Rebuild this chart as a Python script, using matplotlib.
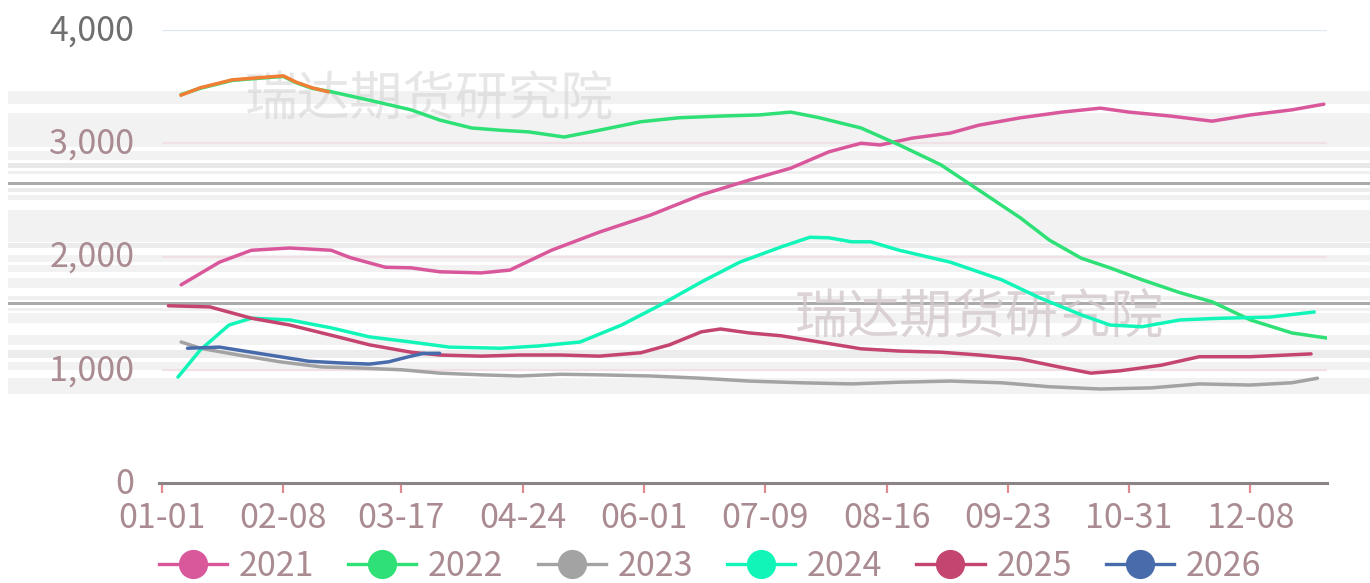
import matplotlib
matplotlib.use("Agg")
import matplotlib.pyplot as plt
import matplotlib.transforms as mtransforms
from matplotlib.patches import Rectangle
from matplotlib.lines import Line2D

plt.rcParams['font.family'] = ['Noto Sans CJK SC', 'DejaVu Sans']

# ---------------- data (day of year offset from 01-01, value) ----------------
tick_days = [0, 38, 75, 113, 151, 189, 227, 265, 303, 341]
tick_labels = ["01-01", "02-08", "03-17", "04-24", "06-01", "07-09", "08-16", "09-23", "10-31", "12-08"]
y_ticks = [0, 1000, 2000, 3000, 4000]
y_labels = ["0", "1,000", "2,000", "3,000", "4,000"]

days_2021 = [6, 18, 28, 40, 53, 59, 70, 78, 87, 100, 109, 122, 137, 153, 169, 184, 197, 209, 219, 225,
             235, 247, 256, 269, 282, 294, 303, 316, 329, 341, 354, 364]
vals_2021 = [1750, 1950, 2055, 2075, 2055, 1990, 1905, 1900, 1865, 1855, 1880, 2055, 2215, 2365, 2545,
             2675, 2780, 2925, 3000, 2985, 3045, 3090, 3160, 3225, 3275, 3310, 3275, 3240, 3195, 3250,
             3295, 3345]

days_2022 = [6, 12, 22, 31, 38, 42, 47, 53, 65, 78, 87, 97, 106, 115, 126, 137, 150, 162, 175, 187, 197,
             206, 219, 231, 244, 256, 269, 278, 288, 297, 307, 319, 329, 341, 354, 365]
vals_2022 = [3430, 3485, 3555, 3575, 3590, 3535, 3485, 3455, 3380, 3295, 3205, 3135, 3115, 3100, 3055,
             3115, 3190, 3225, 3240, 3250, 3275, 3225, 3135, 2985, 2810, 2585, 2340, 2145, 1985, 1900,
             1795, 1680, 1600, 1440, 1325, 1280]

days_orange = [6, 12, 22, 31, 38, 42, 47, 52]
vals_orange = [3425, 3490, 3560, 3580, 3595, 3540, 3490, 3455]

days_2023 = [6, 12, 24, 37, 50, 62, 75, 87, 100, 112, 125, 137, 153, 169, 184, 200, 216, 231, 247, 263,
             278, 294, 310, 325, 341, 354, 362]
vals_2023 = [1245, 1190, 1130, 1070, 1025, 1015, 1000, 970, 955, 945, 960, 955, 945, 925, 900, 885, 875,
             890, 900, 885, 850, 830, 840, 875, 865, 885, 925]

days_2024 = [5, 12, 21, 28, 40, 53, 65, 78, 90, 106, 118, 131, 144, 156, 169, 181, 194, 203, 209, 216,
             222, 231, 247, 263, 275, 288, 297, 307, 319, 332, 347, 361]
vals_2024 = [935, 1175, 1395, 1455, 1440, 1370, 1290, 1245, 1200, 1190, 1210, 1245, 1395, 1570, 1775,
             1950, 2085, 2170, 2165, 2130, 2130, 2055, 1950, 1795, 1635, 1485, 1395, 1380, 1440, 1455,
             1465, 1510]

days_2025 = [2, 15, 28, 40, 53, 65, 78, 87, 100, 112, 125, 137, 150, 159, 169, 175, 184, 194, 206, 219,
             231, 244, 256, 269, 281, 291, 300, 313, 325, 341, 360]
vals_2025 = [1565, 1555, 1455, 1395, 1305, 1220, 1155, 1130, 1120, 1130, 1130, 1120, 1150, 1220, 1335,
             1360, 1325, 1300, 1245, 1185, 1165, 1155, 1130, 1095, 1025, 970, 990, 1040, 1115, 1115, 1140]

days_2026 = [8, 18, 28, 37, 46, 56, 65, 71, 78, 82, 87]
vals_2026 = [1190, 1200, 1155, 1115, 1075, 1060, 1050, 1070, 1120, 1145, 1145]

series = [
    ("2021", days_2021, vals_2021, "#d9579b"),
    ("2022", days_2022, vals_2022, "#2fe076"),
    ("2023", days_2023, vals_2023, "#a3a3a3"),
    ("2024", days_2024, vals_2024, "#12f5b9"),
    ("2025", days_2025, vals_2025, "#c4456f"),
    ("2026", days_2026, vals_2026, "#486cab"),
]
watermark = "瑞达期货研究院"

# ---------------- figure ----------------
W, H = 1370, 583
fig = plt.figure(figsize=(W / 100, H / 100), dpi=100)
fig.patch.set_facecolor("white")

# screenshot-like horizontal striping in background
bands = [(91, 104, "#f2f2f2"), (113, 147, "#f2f2f2"), (151, 160, "#f2f2f2"), (163, 168, "#e8e8e8"),
         (171, 174, "#f0f0f0"), (182, 185, "#aaaaaa"), (188, 192, "#ececec"), (195, 200, "#f0f0f0"),
         (210, 242, "#f2f2f2"), (243, 248, "#ececec"), (255, 262, "#f2f2f2"), (265, 272, "#f2f2f2"),
         (278, 288, "#f2f2f2"), (296, 300, "#f0f0f0"), (302, 305, "#aaaaaa"), (308, 311, "#f0f0f0"),
         (313, 323, "#f2f2f2"), (335, 345, "#f2f2f2"), (350, 358, "#ececec"), (362, 370, "#f2f2f2"),
         (378, 394, "#f2f2f2")]
for y0, y1, c in bands:
    fig.add_artist(Rectangle((8 / W, 1 - y1 / H), 1 - 8 / W, (y1 - y0) / H,
                             transform=fig.transFigure, facecolor=c, edgecolor="none", zorder=-5))

ax = fig.add_axes([162 / W, 1 - 483 / H, (1327 - 162) / W, (483 - 30) / H])
ax.set_zorder(5)
ax.set_facecolor("none")
ax.set_xlim(0, 365)
ax.set_ylim(0, 4000)

for yt in y_ticks[1:]:
    ax.axhline(yt, color="#e0e6f1" if yt == 4000 else "#f1e1e7", lw=1.6, zorder=1)

# watermarks
ax.text(245 / W, 1 - 100 / H, watermark, fontsize=38, color="#cfcfcf", alpha=0.5,
        ha="left", va="center", zorder=2, transform=fig.transFigure)
ax.text(795 / W, 1 - 318 / H, watermark, fontsize=38, color="#d2c8cc", alpha=0.8,
        ha="left", va="center", zorder=2, transform=fig.transFigure)

handles = []
for name, d, v, c in series:
    ax.plot(d, v, color=c, lw=2.5, zorder=3, solid_capstyle="round")
    handles.append(Line2D([], [], color=c, lw=2.4, marker="o", markersize=20,
                          markerfacecolor=c, markeredgecolor=c, label=name))
    if name == "2022":
        ax.plot(days_orange, vals_orange, color="#f07f35", lw=2.5, zorder=3.5)

ax.set_xticks(tick_days)
ax.set_xticklabels(tick_labels)
ax.set_yticks(y_ticks)
ax.set_yticklabels(y_labels)

lab_color = "#a98b91"
ax.tick_params(axis="x", length=7, width=1.6, color="#e38a90", pad=6, labelsize=24.5, labelcolor=lab_color)
ax.tick_params(axis="y", length=0, pad=20, labelsize=24.5, labelcolor=lab_color)
ax.get_yticklabels()[-1].set_color("#6f6f6f")
shift = mtransforms.ScaledTranslation(0, 3 / 100, fig.dpi_scale_trans)
for t in ax.get_yticklabels():
    t.set_transform(t.get_transform() + shift)

for s in ["top", "right", "left"]:
    ax.spines[s].set_visible(False)
ax.spines["bottom"].set_color("#8b8385")
ax.spines["bottom"].set_linewidth(2.2)
ax.spines["bottom"].set_bounds(-1, 365)

leg = fig.legend(handles=handles, loc="center", bbox_to_anchor=(710 / W, 1 - 566 / H), ncol=6,
                 frameon=False, fontsize=24.5, handlelength=2.0, handletextpad=0.35,
                 columnspacing=1.0, borderaxespad=0, borderpad=0)
for t in leg.get_texts():
    t.set_color(lab_color)

fig.savefig("out.png", dpi=100)
